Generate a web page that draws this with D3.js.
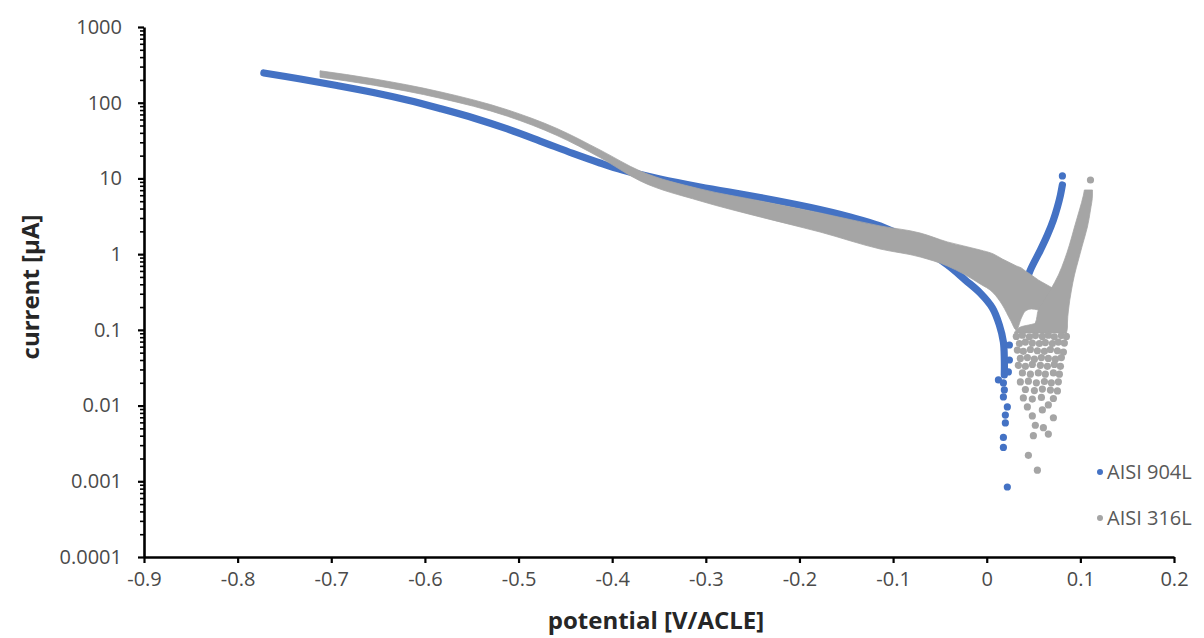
<!DOCTYPE html>
<html>
<head>
<meta charset="utf-8">
<script src="https://cdn.jsdelivr.net/npm/d3@7"></script>
<style>
  html, body { margin: 0; padding: 0; background: #fff; }
  svg { display: block; }
  .tick text { font-family: "Open Sans", sans-serif; font-size: 20px; fill: #4a4a4a; }
  .axis-title { font-family: "Open Sans", sans-serif; font-weight: bold; font-size: 24px; fill: #262626; }
  .legend text { font-family: "Open Sans", sans-serif; font-size: 20px; fill: #595959; }
</style>
</head>
<body>
<svg id="chart" width="1204" height="638"></svg>
<script>
const seriesNames = ["AISI 904L", "AISI 316L"];
const seriesColors = ["#4472C4", "#A5A5A5"];

const xTicks = [-0.9, -0.8, -0.7, -0.6, -0.5, -0.4, -0.3, -0.2, -0.1, 0, 0.1, 0.2];
const xTickLabels = ["-0.9", "-0.8", "-0.7", "-0.6", "-0.5", "-0.4", "-0.3", "-0.2", "-0.1", "0", "0.1", "0.2"];
const yTicks = [0.0001, 0.001, 0.01, 0.1, 1, 10, 100, 1000];
const yTickLabels = ["0.0001", "0.001", "0.01", "0.1", "1", "10", "100", "1000"];

// AISI 904L — [potential V, current µA]
const blueCathodic = [
  [-0.772, 247], [-0.733, 206], [-0.694, 169], [-0.655, 136.6], [-0.619, 108.7],
  [-0.584, 83.9], [-0.548, 62.9], [-0.512, 45.0], [-0.477, 31.2], [-0.442, 21.4],
  [-0.413, 16.0], [-0.389, 12.9], [-0.349, 9.83], [-0.306, 7.71], [-0.242, 5.60],
  [-0.188, 4.13], [-0.146, 3.10], [-0.114, 2.36], [-0.082, 1.54], [-0.042, 0.719],
  [-0.023, 0.456], [-0.007, 0.307], [0.006, 0.195], [0.0135, 0.116], [0.0178, 0.069],
  [0.0188, 0.040], [0.0188, 0.0254]
];
const blueAnodic = [
  [0.0381, 0.316], [0.0467, 0.62], [0.0573, 1.13], [0.0648, 1.79], [0.0712, 2.83],
  [0.0755, 4.2], [0.0787, 6.0], [0.0808, 8.2]
];
const blueScatter = [
  [0.0242, 0.0631], [0.0242, 0.040], [0.0231, 0.0278], [0.0125, 0.0218],
  [0.0178, 0.0199], [0.0188, 0.0161], [0.0178, 0.0130], [0.022, 0.0096], [0.0199, 0.0075],
  [0.0199, 0.0059], [0.0178, 0.0038], [0.0178, 0.0028], [0.022, 0.00084], [0.0808, 10.8]
];

// AISI 316L — cathodic band: [potential V, upper current, lower current]
const grayCathodic = [
  [-0.712, 264, 217.5], [-0.655, 207, 170.5], [-0.584, 139.5, 114.8], [-0.512, 80.7, 66.4],
  [-0.459, 45.7, 36.9], [-0.413, 23.8, 18.9], [-0.370, 12.5, 9.25], [-0.306, 7.26, 5.04],
  [-0.242, 5.04, 3.10], [-0.178, 3.50, 1.96], [-0.114, 2.36, 1.17], [-0.071, 1.90, 0.917],
  [-0.042, 1.45, 0.698], [-0.007, 1.135, 0.404], [0.0071, 1.005, 0.307], [0.0167, 0.863, 0.213],
  [0.0253, 0.764, 0.135], [0.0317, 0.698, 0.0996], [0.0370, 0.657, 0.1435], [0.0413, 0.599, 0.1775],
  [0.0477, 0.531, 0.189], [0.0551, 0.456, 0.183], [0.0626, 0.404, 0.172], [0.0702, 0.357, 0.162]
];
// AISI 316L — anodic band: [current µA, left potential, right potential]
const grayAnodic = [
  [0.091, 0.0295, 0.0851], [0.109, 0.036, 0.0862], [0.1233, 0.0519, 0.0862],
  [0.183, 0.0551, 0.0873], [0.336, 0.068, 0.0905], [0.531, 0.0766, 0.0937],
  [0.838, 0.0830, 0.0979], [1.32, 0.0883, 0.1022], [2.28, 0.0937, 0.1075],
  [3.83, 0.099, 0.1108], [6.04, 0.1033, 0.1129], [7.04, 0.1043, 0.1129]
];
// AISI 316L — scattered points below the junction
const grayScatter = [
  [0.0316, 0.082], [0.0381, 0.085], [0.0456, 0.081], [0.0520, 0.084], [0.0594, 0.082], [0.0658, 0.085], [0.0722, 0.081], [0.0797, 0.084], [0.0851, 0.082],
  [0.0349, 0.066], [0.0413, 0.069], [0.0487, 0.067], [0.0562, 0.066], [0.0626, 0.068], [0.0701, 0.066], [0.0765, 0.069], [0.0829, 0.067],
  [0.0327, 0.054], [0.0391, 0.052], [0.0466, 0.055], [0.0541, 0.053], [0.0616, 0.052], [0.0680, 0.055], [0.0755, 0.053], [0.0819, 0.051],
  [0.0359, 0.042], [0.0434, 0.043], [0.0509, 0.041], [0.0584, 0.043], [0.0658, 0.042], [0.0733, 0.041], [0.0797, 0.043],
  [0.0338, 0.034], [0.0413, 0.033], [0.0487, 0.035], [0.0573, 0.034], [0.0648, 0.033], [0.0722, 0.035], [0.0787, 0.033],
  [0.0381, 0.027], [0.0466, 0.026], [0.0551, 0.027], [0.0626, 0.026], [0.0712, 0.027], [0.0776, 0.026],
  [0.0359, 0.0205], [0.0445, 0.021], [0.0530, 0.020], [0.0616, 0.0208], [0.0690, 0.0200], [0.0765, 0.0206],
  [0.0413, 0.0163], [0.0509, 0.0158], [0.0594, 0.0165], [0.0680, 0.0160], [0.0755, 0.0156],
  [0.0391, 0.0126], [0.0487, 0.0122], [0.0584, 0.0128], [0.0712, 0.0124],
  [0.0434, 0.0096], [0.0594, 0.00875], [0.0658, 0.0102], [0.0487, 0.0073], [0.0712, 0.0069],
  [0.0519, 0.0055], [0.0605, 0.0051], [0.0658, 0.0042], [0.0498, 0.0040], [0.0445, 0.0022],
  [0.0541, 0.0014], [0.1108, 9.54]
];

const svg = d3.select("#chart");
const x = d3.scaleLinear().domain([-0.9, 0.2]).range([144, 1174]);
const y = d3.scaleLog().domain([1e-4, 1e3]).range([557, 27]);

const markR = 3.6;

// ===Series: AISI 904L (drawn first, 316L sits on top)===
const line = d3.line().x(d => x(d[0])).y(d => y(d[1])).curve(d3.curveCatmullRom);
const blue = svg.append("g").attr("fill", "none").attr("stroke", seriesColors[0])
  .attr("stroke-width", markR * 2).attr("stroke-linecap", "round").attr("stroke-linejoin", "round");
blue.append("path").attr("d", line(blueCathodic));
blue.append("path").attr("d", line(blueAnodic));
svg.append("g").attr("fill", seriesColors[0]).selectAll("circle").data(blueScatter).join("circle")
  .attr("cx", d => x(d[0])).attr("cy", d => y(d[1])).attr("r", markR);

// ===Series: AISI 316L===
const gray = svg.append("g").attr("fill", seriesColors[1]).attr("stroke", seriesColors[1])
  .attr("stroke-width", 0.8).attr("stroke-linejoin", "round");
gray.append("path").attr("d", d3.area()
  .x(d => x(d[0])).y0(d => y(d[2])).y1(d => y(d[1])).curve(d3.curveMonotoneX)(grayCathodic));
gray.append("path").attr("d", d3.area()
  .y(d => y(d[0])).x0(d => x(d[1])).x1(d => x(d[2])).curve(d3.curveMonotoneY)(grayAnodic));
svg.append("g").attr("fill", seriesColors[1]).selectAll("circle").data(grayScatter).join("circle")
  .attr("cx", d => x(d[0])).attr("cy", d => y(d[1])).attr("r", markR);

// ===Axes===
const minor = y.ticks().filter(t => !yTicks.some(m => Math.abs(m - t) / m < 1e-6));
svg.append("g").attr("transform", "translate(144,0)")
  .call(d3.axisLeft(y).tickValues(minor).tickSize(4).tickSizeOuter(0).tickFormat(""))
  .call(g => g.select(".domain").remove())
  .call(g => g.selectAll("line").attr("stroke", "#000").attr("stroke-width", 1.6));
svg.append("g").attr("transform", "translate(144,0)")
  .call(d3.axisLeft(y).tickValues(yTicks).tickSize(6).tickSizeOuter(0).tickPadding(16)
    .tickFormat((d, i) => yTickLabels[i]))
  .call(g => g.select(".domain").attr("stroke", "#000").attr("stroke-width", 2.6))
  .call(g => g.selectAll("line").attr("stroke", "#000").attr("stroke-width", 2.2));
svg.append("g").attr("transform", "translate(0,557)")
  .call(d3.axisBottom(x).tickValues(xTicks).tickSize(6).tickSizeOuter(0).tickPadding(9)
    .tickFormat((d, i) => xTickLabels[i]))
  .call(g => g.select(".domain").attr("stroke", "#000").attr("stroke-width", 2.6))
  .call(g => g.selectAll("line").attr("stroke", "#000").attr("stroke-width", 2.2));

svg.append("text").attr("class", "axis-title")
  .attr("transform", "translate(39,287) rotate(-90)").attr("text-anchor", "middle")
  .text("current [µA]");
svg.append("text").attr("class", "axis-title")
  .attr("x", 656).attr("y", 629).attr("text-anchor", "middle")
  .text("potential [V/ACLE]");

// ===Legend===
const legend = svg.append("g").attr("class", "legend");
seriesNames.forEach((name, i) => {
  const row = legend.append("g").attr("transform", `translate(1100,${472 + i * 46})`);
  row.append("circle").attr("r", 3).attr("fill", seriesColors[i]);
  row.append("text").attr("x", 7).attr("dy", "0.35em").text(name);
});
</script>
</body>
</html>
